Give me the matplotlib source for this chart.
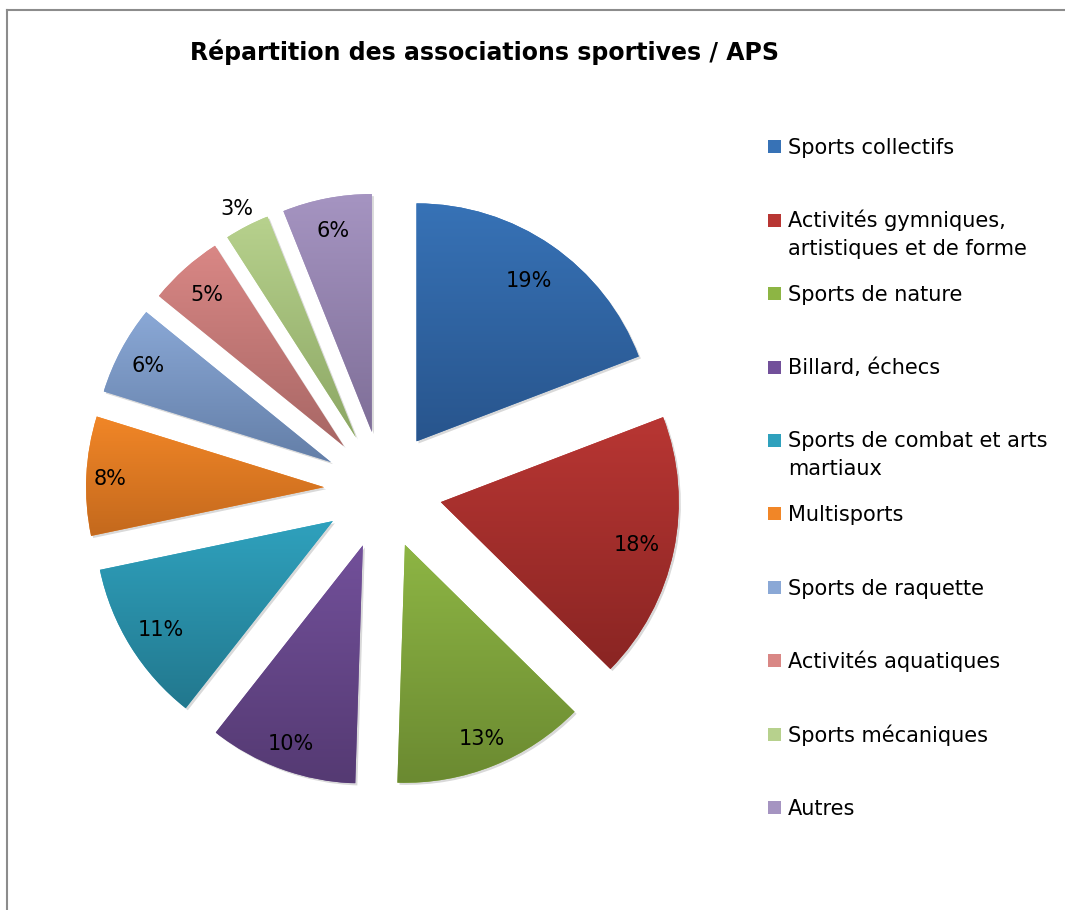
import matplotlib
matplotlib.use("Agg")
import matplotlib.pyplot as plt
import matplotlib.patheffects as pe
from matplotlib.patches import Rectangle
from matplotlib.lines import Line2D
from matplotlib.colors import to_rgb
import numpy as np

TITLE = "Répartition des associations sportives / APS"

categories = [
    "Sports collectifs",
    "Activités gymniques,\nartistiques et de forme",
    "Sports de nature",
    "Billard, échecs",
    "Sports de combat et arts\nmartiaux",
    "Multisports",
    "Sports de raquette",
    "Activités aquatiques",
    "Sports mécaniques",
    "Autres",
]
shares = [19, 18, 13, 10, 11, 8, 6, 5, 3, 6]

# gradient colours, top -> bottom of each wedge
top_colors = ["#3772b6", "#b83633", "#8db544", "#72509a", "#2fa1bd",
              "#f18627", "#8aa8d6", "#d98785", "#b7d18d", "#a594c1"]
bottom_colors = ["#28558d", "#8a2523", "#6b8a31", "#553a73", "#22788e",
                 "#c4691d", "#647fa8", "#a86765", "#8ca764", "#7f6f98"]

plt.rcParams["font.family"] = ["DejaVu Sans"]

W, H = 1065, 910
fig = plt.figure(figsize=(W / 100, H / 100), dpi=100)
# square pie area, 660 px wide, centred on (383, 490) px
ax = fig.add_axes([(383 - 330) / W, (H - 490 - 330) / H, 660 / W, 660 / H])

explode = [0.248] * len(shares)
wedges, _ = ax.pie(shares, explode=explode, startangle=90, counterclock=False,
                   radius=1.0, colors=[to_rgb(c) for c in top_colors],
                   wedgeprops=dict(linewidth=0))

for w, c0, c1 in zip(wedges, top_colors, bottom_colors):
    w.set_path_effects([pe.SimplePatchShadow(offset=(1.5, -1.5), shadow_rgbFace="k", alpha=0.15),
                        pe.Normal()])
    ext = w.get_path().get_extents()
    t = np.linspace(0, 1, 64)[:, None, None]
    grad = (1 - t) * np.array(to_rgb(c0)) + t * np.array(to_rgb(c1))
    im = ax.imshow(grad, extent=(ext.x0, ext.x1, ext.y0, ext.y1), origin="upper",
                   aspect="auto", interpolation="bilinear", zorder=2)
    im.set_clip_path(w)

# percentage labels, "best fit" distances (thin slice label sits outside)
label_r = [0.83, 0.84, 0.87, 0.88, 0.85, 0.90, 0.87, 0.86, 1.09, 0.87]
for w, v, r, ex in zip(wedges, shares, label_r, explode):
    ang = np.deg2rad((w.theta1 + w.theta2) / 2)
    x = (ex + r) * np.cos(ang)
    y = (ex + r) * np.sin(ang)
    ax.text(x, y, f"{v}%", ha="center", va="center_baseline",
            fontsize=15, color="black", zorder=5)

lim = 330 / 238
ax.set_xlim(-lim, lim)
ax.set_ylim(-lim, lim)
ax.set_aspect("auto")
ax.axis("off")

# legend: fixed slots, text hangs from the first line
slot = 73.4
line_h = 27
for i, (lab, c) in enumerate(zip(categories, top_colors)):
    base = 154.3 + i * slot
    fig.add_artist(Rectangle((768 / W, 1 - (base - 1) / H), 13 / W, 13 / H,
                             transform=fig.transFigure, facecolor=c, edgecolor="none"))
    last_base = base + lab.count("\n") * line_h
    fig.text(788 / W, 1 - last_base / H, lab, ha="left", va="baseline",
             fontsize=15, linespacing=1.5)

fig.text(484 / W, 1 - 52 / H, TITLE, ha="center", va="center",
         fontsize=17, fontweight="bold")

# chart area border (left and top edges visible)
fig.add_artist(Line2D([7 / W, 7 / W], [0, 1 - 10 / H], color="#8c8c8c", lw=1.5))
fig.add_artist(Line2D([7 / W, 1], [1 - 10 / H, 1 - 10 / H], color="#8c8c8c", lw=1.5))

fig.savefig("out.png", dpi=100)
